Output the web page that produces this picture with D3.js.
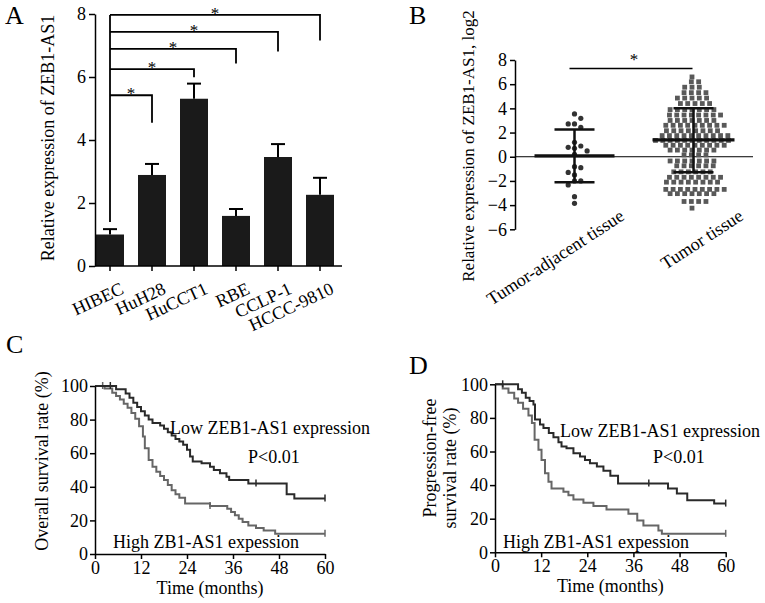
<!DOCTYPE html>
<html><head><meta charset="utf-8">
<script src="https://cdn.jsdelivr.net/npm/d3@7"></script>
<style>
body{margin:0;background:#fff;}
svg{font-family:"Liberation Serif","Times New Roman",serif;}
svg text{fill:#000;}
</style></head><body>
<svg id="c" width="765" height="603"></svg>
<script>
// ---------- Panel A data ----------
const cellLines = ["HIBEC","HuH28","HuCCT1","RBE","CCLP-1","HCCC-9810"];
const expressionMean = [1.0, 2.89, 5.31, 1.59, 3.46, 2.26];
const expressionErr  = [0.17, 0.35, 0.48, 0.22, 0.41, 0.54];
const bracketTargets = ["HuH28","HuCCT1","RBE","CCLP-1","HCCC-9810"];
const bracketLevel = [5.42, 6.25, 6.89, 7.43, 7.97];
const bracketDrop  = [4.55, 5.99, 6.43, 6.81, 7.16];
const bracketBase = 1.4;
const aTicks = [0,2,4,6,8];

// ---------- Panel B data ----------
const groups = ["Tumor-adjacent tissue","Tumor tissue"];
const adjacentValues = [3.54,3.18,2.71,2.71,2.44,1.2,0.89,0.78,0.70,0.48,0.2,-0.82,-0.9,-1.3,-1.5,-2.0,-2.0,-2.33,-3.3,-3.85];
const tumorRows = [[6.6,1],[6.2,2],[5.75,3],[5.3,4],[4.85,5],[4.4,5],[3.9,7],[3.45,8],[3.0,7],[2.6,9],[2.15,8],[1.75,10],[1.35,11],[0.95,9],[0.55,7],[0.15,4],[-0.35,7],[-0.75,6],[-1.25,6],[-1.7,8],[-2.1,8],[-2.7,9],[-3.05,7],[-3.7,4],[-4.25,1]];
const groupMean  = [0.08, 1.39];
const groupUpper = [2.25, 4.0];
const groupLower = [-2.1, -1.28];
const bSigLevel = 7.3;
const bTicks = [-6,-4,-2,0,2,4,6,8];

// ---------- Panel C / D data (Kaplan-Meier steps: [month, %]) ----------
const kmTicksX = [0,12,24,36,48,60];
const kmTicksY = [0,20,40,60,80,100];
const osLow = [[0,100],[5.5,98],[8,95.5],[9,93],[10,90],[11,87.5],[12,85],[13,82.5],[14,80],[15,78],[17,76.5],[18,74.5],[19,72.5],[20,70.5],[21,68.5],[22,67],[23,65],[24,62],[24.8,58],[25.5,55],[27.8,54],[30,52],[31,50],[32.6,48],[34.3,46],[35,44],[40,42],[50,35.5],[52,33]];
const osHigh = [[0,100],[2.5,98.5],[4.5,96],[5.5,94],[6.5,92],[7.5,89.5],[8.5,87],[9.5,84],[10.5,80.5],[11.5,76],[12.5,70],[13,63],[14,56],[15,52],[16,49],[17,46.5],[18,44],[19,41],[20,38],[21,35.5],[22,33.5],[23.5,30],[30,28.5],[34.5,27],[35.5,25],[36.5,23],[37.5,21],[38.5,19],[40,17],[42,15.5],[44,14],[47,12]];
const osLowCensor = [4, 42, 60];
const osHighCensor = [2, 30, 60];
const pfsLow = [[0,100],[6,97],[7,95],[8,92],[9,90],[10,88],[10.4,79],[11.7,76],[12.6,74],[14,71],[15.2,68.5],[16.5,65.5],[17.3,63],[18.6,62],[20.4,59],[22.1,57],[23.4,55],[24.7,53],[26.5,51],[28.2,48.5],[30,45.5],[32,41],[45,38],[47.3,35],[50,31],[57,29]];
const pfsHigh = [[0,100],[2,97.5],[3.5,95],[5,91.5],[6,89],[7.3,85.5],[8.7,81.5],[9.6,77],[10.3,67],[11.3,61],[12.1,55],[13,47],[13.9,42],[14.7,38],[17.8,36],[19.1,34],[20.4,31.5],[23,29.5],[25.6,27.5],[29,25.5],[34.7,23],[37,19],[38.6,16],[42.5,13],[43.4,11]];
const pfsLowCensor = [2, 40, 60];
const pfsHighCensor = [60];

// ---------- drawing ----------
const svg = d3.select("#c");
const FS = 18;

function styleAxis(g){
  g.attr("font-family",null);
  g.selectAll("path,line").attr("stroke","#000").attr("stroke-width",1.5);
  g.selectAll("text").attr("font-size",FS).attr("fill","#000");
}
function panelLabel(t,x,y){
  svg.append("text").attr("x",x).attr("y",y).attr("font-size",26).text(t);
}
function star(g,x,y){
  g.append("text").attr("x",x).attr("y",y).attr("text-anchor","middle").attr("font-size",17).attr("fill","#000").text("*");
}

// ===== Panel A =====
{
  const x = d3.scaleBand().domain(cellLines).range([96,334]).paddingInner(1/3).paddingOuter(0);
  const y = d3.scaleLinear().domain([0,8]).range([266,14]);
  const g = svg.append("g");
  const cx = d => x(d)+x.bandwidth()/2;
  g.selectAll("rect.bar").data(cellLines).join("rect")
    .attr("x",d=>x(d)).attr("width",x.bandwidth())
    .attr("y",(d,i)=>y(expressionMean[i])).attr("height",(d,i)=>y(0)-y(expressionMean[i]))
    .attr("fill","#1a1a1a");
  cellLines.forEach((d,i)=>{
    const top = y(expressionMean[i]+expressionErr[i]);
    g.append("line").attr("x1",cx(d)).attr("x2",cx(d)).attr("y1",y(expressionMean[i])).attr("y2",top).attr("stroke","#000").attr("stroke-width",2);
    g.append("line").attr("x1",cx(d)-7).attr("x2",cx(d)+7).attr("y1",top).attr("y2",top).attr("stroke","#000").attr("stroke-width",2);
  });
  const x0 = cx(cellLines[0]);
  g.append("line").attr("x1",x0).attr("x2",x0).attr("y1",y(bracketBase)).attr("y2",y(d3.max(bracketLevel))).attr("stroke","#000").attr("stroke-width",1.8);
  bracketTargets.forEach((t,i)=>{
    const x1 = cx(t);
    g.append("path").attr("d",`M${x0},${y(bracketLevel[i])}H${x1}V${y(bracketDrop[i])}`).attr("fill","none").attr("stroke","#000").attr("stroke-width",1.8);
    star(g,(x0+x1)/2,y(bracketLevel[i])+4);
  });
  const ya = g.append("g").attr("transform","translate(95,0)").call(d3.axisLeft(y).tickValues(aTicks).tickSize(6).tickPadding(3).tickSizeOuter(0));
  styleAxis(ya);
  g.append("line").attr("x1",95).attr("x2",342).attr("y1",y(0)).attr("y2",y(0)).attr("stroke","#000").attr("stroke-width",1.5);
  g.selectAll("line.xt").data(cellLines).join("line").attr("class","xt")
    .attr("x1",cx).attr("x2",cx).attr("y1",y(0)).attr("y2",y(0)+5).attr("stroke","#000").attr("stroke-width",1.5);
  g.selectAll("text.xl").data(cellLines).join("text").attr("class","xl")
    .attr("text-anchor","end").attr("font-size",FS)
    .attr("transform",d=>`translate(${cx(d)+15},293) rotate(-25)`).text(d=>d);
  g.append("text").attr("transform","translate(54,138) rotate(-90)").attr("text-anchor","middle").attr("font-size",18).text("Relative expression of ZEB1-AS1");
  panelLabel("A",5,24);
}

// ===== Panel B =====
{
  const x = d3.scalePoint().domain(groups).range([515,753]).padding(0.5);
  const y = d3.scaleLinear().domain([-6,8]).range([229.3,60]);
  const g = svg.append("g");
  g.append("line").attr("x1",515).attr("x2",753).attr("y1",y(0)).attr("y2",y(0)).attr("stroke","#000").attr("stroke-width",1);
  const cA = x(groups[0]);
  const placed = [];
  const sorted = adjacentValues.slice().sort((a,b)=>b-a);
  const dx = 6.3, minD = 6;
  sorted.forEach(v=>{
    const py = y(v);
    let px;
    const offs = [0,1,-1,2,-2,3,-3,4,-4];
    for (let k=0;k<offs.length;k++){
      px = cA + offs[k]*dx;
      if (placed.every(p=>Math.hypot(p[0]-px,p[1]-py)>=minD)) break;
    }
    placed.push([px,py]);
  });
  g.selectAll("circle.adj").data(placed).join("circle").attr("class","adj")
    .attr("cx",d=>d[0]).attr("cy",d=>d[1]).attr("r",2.6).attr("fill","#333");
  const cT = x(groups[1]);
  const sq = [];
  tumorRows.forEach(([v,n],r)=>{
    const shift = (r%2) ? 1.5 : -1.5;
    for (let i=0;i<n;i++) sq.push([cT + shift + (i-(n-1)/2)*7.3, y(v)]);
  });
  g.selectAll("rect.tum").data(sq).join("rect").attr("class","tum")
    .attr("x",d=>d[0]-2.4).attr("y",d=>d[1]-2.4).attr("width",4.8).attr("height",4.8).attr("fill","#595959");
  const meanHalf = [40,41], capHalf = [20,20];
  groups.forEach((gname,i)=>{
    const c = x(gname);
    g.append("line").attr("x1",c).attr("x2",c).attr("y1",y(groupUpper[i])).attr("y2",y(groupLower[i])).attr("stroke","#111").attr("stroke-width",2.5);
    [groupUpper[i],groupLower[i]].forEach(v=>g.append("line").attr("x1",c-capHalf[i]).attr("x2",c+capHalf[i]).attr("y1",y(v)).attr("y2",y(v)).attr("stroke","#111").attr("stroke-width",2.5));
    g.append("line").attr("x1",c-meanHalf[i]).attr("x2",c+meanHalf[i]).attr("y1",y(groupMean[i])).attr("y2",y(groupMean[i])).attr("stroke","#111").attr("stroke-width",3.2);
  });
  g.append("line").attr("x1",cA-5).attr("x2",cT-1).attr("y1",y(bSigLevel)).attr("y2",y(bSigLevel)).attr("stroke","#000").attr("stroke-width",1.5);
  star(g,(cA+cT)/2,y(bSigLevel)-3);
  const ya = g.append("g").attr("transform","translate(515,0)").call(d3.axisLeft(y).tickValues(bTicks).tickSize(5).tickPadding(3).tickSizeOuter(0));
  styleAxis(ya);
  g.selectAll("text.xl").data(groups).join("text").attr("class","xl")
    .attr("text-anchor","end").attr("font-size",FS)
    .attr("transform",d=>`translate(${x(d)+51},219) rotate(-33)`).text(d=>d);
  g.append("text").attr("transform","translate(474,146) rotate(-90)").attr("text-anchor","middle").attr("font-size",17).text("Relative expression of ZEB1-AS1, log2");
  panelLabel("B",409,24);
}

// ===== KM panels =====
function kmPanel(opts){
  const x = d3.scaleLinear().domain([0,60]).range([opts.x0,opts.x1]);
  const y = d3.scaleLinear().domain([0,100]).range([opts.y0,opts.y1]);
  const g = svg.append("g");
  const line = d3.line().x(d=>x(d[0])).y(d=>y(d[1])).curve(d3.curveStepAfter);
  const at = (s,t)=>{ let v=s[0][1]; s.forEach(p=>{ if(p[0]<=t) v=p[1]; }); return v; };
  [[opts.high,"#666",opts.highC],[opts.low,"#2a2a2a",opts.lowC]].forEach(([s,col,cens])=>{
    const pts = s.concat([[60, s[s.length-1][1]]]);
    g.append("path").attr("d",line(pts)).attr("fill","none").attr("stroke",col).attr("stroke-width",2);
    cens.forEach(t=>{
      const v = at(s,t);
      g.append("line").attr("x1",x(t)).attr("x2",x(t)).attr("y1",y(v)-4).attr("y2",y(v)+3).attr("stroke",col).attr("stroke-width",1.5);
    });
  });
  const ya = g.append("g").attr("transform",`translate(${opts.x0},0)`).call(d3.axisLeft(y).tickValues(kmTicksY).tickSize(5).tickPadding(2).tickSizeOuter(0));
  styleAxis(ya);
  const xa = g.append("g").attr("transform",`translate(0,${opts.y0})`).call(d3.axisBottom(x).tickValues(kmTicksX).tickSize(5).tickPadding(2).tickSizeOuter(0));
  styleAxis(xa);
  g.append("text").attr("x",(opts.x0+opts.x1)/2).attr("y",opts.y0+40).attr("text-anchor","middle").attr("font-size",FS).text("Time (months)");
  g.append("text").attr("x",opts.lowTx).attr("y",opts.lowTy).attr("font-size",FS).text("Low ZEB1-AS1 expression");
  g.append("text").attr("x",opts.pTx).attr("y",opts.pTy).attr("font-size",FS).text("P<0.01");
  g.append("text").attr("x",opts.highTx).attr("y",opts.highTy).attr("font-size",FS).text("High ZB1-AS1 expession");
  return g;
}
{
  kmPanel({x0:95,x1:325,y0:554,y1:386,low:osLow,high:osHigh,lowC:osLowCensor,highC:osHighCensor,
    lowTx:170,lowTy:434,pTx:248,pTy:463,highTx:113,highTy:548});
  svg.append("text").attr("transform","translate(48,461) rotate(-90)").attr("text-anchor","middle").attr("font-size",FS).text("Overall survival rate (%)");
  panelLabel("C",6,353);
}
{
  kmPanel({x0:495,x1:725.7,y0:552.3,y1:384.3,low:pfsLow,high:pfsHigh,lowC:pfsLowCensor,highC:pfsHighCensor,
    lowTx:560,lowTy:437,pTx:653,pTy:463,highTx:503,highTy:548});
  svg.append("text").attr("transform","translate(436,458) rotate(-90)").attr("text-anchor","middle").attr("font-size",FS).text("Progression-free");
  svg.append("text").attr("transform","translate(456,468) rotate(-90)").attr("text-anchor","middle").attr("font-size",FS).text("survival rate (%)");
  panelLabel("D",409,374);
}
</script>
</body></html>
